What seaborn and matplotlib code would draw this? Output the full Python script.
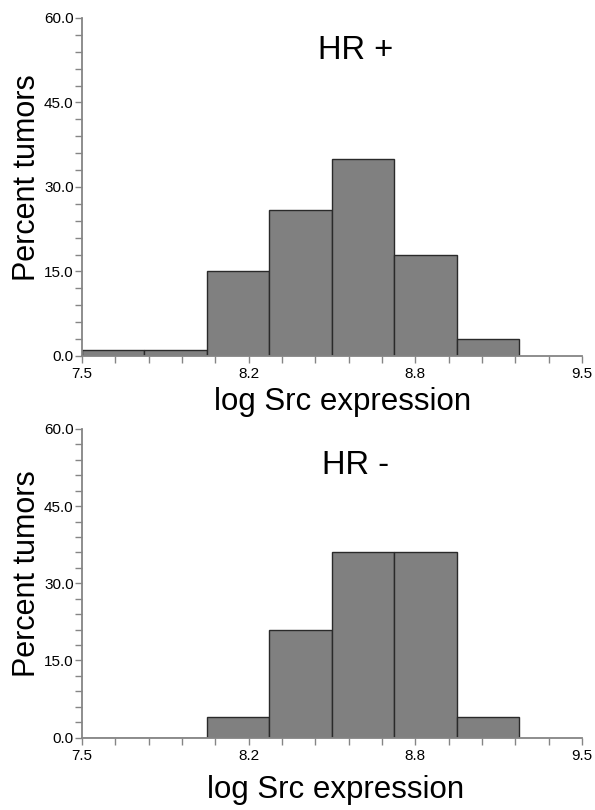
import numpy as np
import matplotlib
matplotlib.use("Agg")
import matplotlib.pyplot as plt
import seaborn as sns
from matplotlib.ticker import MultipleLocator, FixedLocator, FormatStrFormatter

# bin edges of log Src expression and percent of tumors per bin
bin_edges = [7.5, 7.75, 8.0, 8.25, 8.5, 8.75, 9.0, 9.25]
hr_pos_pct = [1, 1, 15, 26, 35, 18, 3]
hr_neg_pct = [0, 0, 4, 21, 36, 36, 4]
panel_titles = ["HR +", "HR -"]

sns.set_style("white")
plt.rcParams['font.family'] = ['Liberation Sans', 'DejaVu Sans']
plt.rcParams['text.color'] = 'black'
plt.rcParams['axes.labelcolor'] = 'black'
plt.rcParams['xtick.labelcolor'] = 'black'
plt.rcParams['ytick.labelcolor'] = 'black'

fig = plt.figure(figsize=(5.95, 8.1), dpi=100)
ax_top = fig.add_axes([0.1378, 0.5605, 0.8403, 0.4173])
ax_bot = fig.add_axes([0.1378, 0.0895, 0.8403, 0.3809])

centers = [(a + b) / 2 for a, b in zip(bin_edges[:-1], bin_edges[1:])]
axis_grey = '#858585'

# (axes, values, title, xlabel x/y, ylabel y, title y)
panels = [
    (ax_top, hr_pos_pct, panel_titles[0], 0.522, -0.160, 0.528, 0.879),
    (ax_bot, hr_neg_pct, panel_titles[1], 0.508, -0.196, 0.531, 0.855),
]

for ax, pct, title, xlx, xly, yly, ty in panels:
    sns.histplot(x=centers, weights=pct, bins=bin_edges, ax=ax,
                 color='#808080', edgecolor='#2a2a2a', linewidth=1.0, alpha=1.0)
    ax.set_xlim(7.5, 9.5)
    ax.set_ylim(0, 60)
    ax.xaxis.set_major_locator(FixedLocator(np.linspace(7.5, 9.5, 4)))
    ax.xaxis.set_minor_locator(FixedLocator(np.linspace(7.5, 9.5, 16)))
    ax.xaxis.set_major_formatter(FormatStrFormatter('%.1f'))
    ax.yaxis.set_major_locator(MultipleLocator(15))
    ax.yaxis.set_minor_locator(MultipleLocator(3))
    ax.yaxis.set_major_formatter(FormatStrFormatter('%.1f'))
    ax.tick_params(which='both', direction='out', length=5, width=1,
                   color=axis_grey, labelsize=11, bottom=True, left=True)
    ax.tick_params(axis='x', which='both', pad=3)
    ax.tick_params(axis='y', which='both', pad=1)
    for side in ['top', 'right']:
        ax.spines[side].set_visible(False)
    for side in ['left', 'bottom']:
        ax.spines[side].set_color(axis_grey)
        ax.spines[side].set_linewidth(1.3)
    ax.set_xlabel('log Src expression', fontsize=22.5, va='baseline')
    ax.xaxis.set_label_coords(xlx, xly)
    ax.set_ylabel('Percent tumors', fontsize=22, va='baseline')
    ax.yaxis.set_label_coords(-0.094, yly)
    ax.text(0.547, ty, title, transform=ax.transAxes, fontsize=23.5,
            ha='center', va='baseline')

fig.savefig('out.png', dpi=100)
